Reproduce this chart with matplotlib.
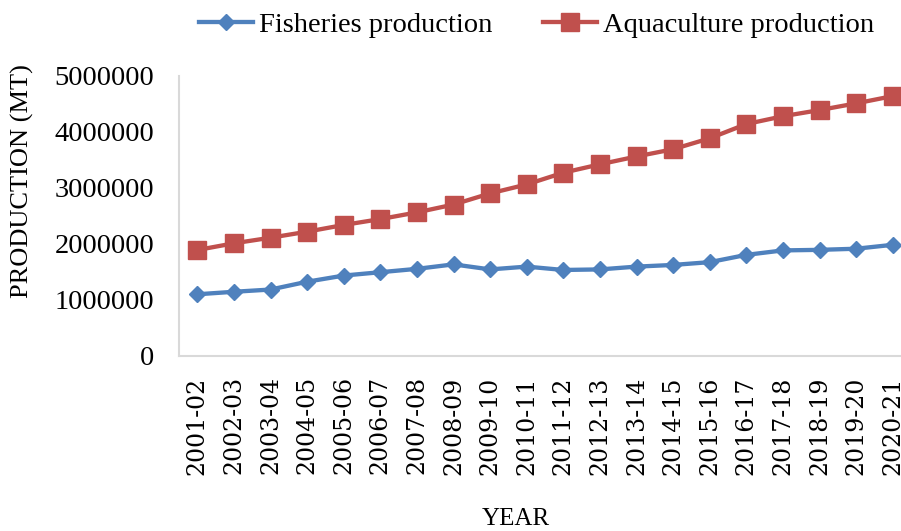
import matplotlib
matplotlib.use("Agg")
import matplotlib.pyplot as plt
from matplotlib.ticker import FixedLocator

years = ["2001-02", "2002-03", "2003-04", "2004-05", "2005-06", "2006-07",
         "2007-08", "2008-09", "2009-10", "2010-11", "2011-12", "2012-13",
         "2013-14", "2014-15", "2015-16", "2016-17", "2017-18", "2018-19",
         "2019-20", "2020-21"]

fisheries = [1095000, 1140000, 1180000, 1320000, 1430000, 1490000, 1550000,
             1630000, 1540000, 1590000, 1530000, 1540000, 1590000, 1620000,
             1670000, 1800000, 1880000, 1890000, 1910000, 1980000]

aquaculture = [1887000, 2007000, 2107000, 2215000, 2335000, 2440000, 2560000,
               2700000, 2900000, 3060000, 3270000, 3420000, 3560000, 3690000,
               3885000, 4140000, 4280000, 4390000, 4510000, 4640000]

y_ticks = [0, 1000000, 2000000, 3000000, 4000000, 5000000]

serif = ["Liberation Serif", "DejaVu Serif"]
blue = "#4F81BD"
red = "#C0504D"
spine_grey = "#D9D9D9"

fig = plt.figure(figsize=(9.01, 5.31), dpi=100)
ax = fig.add_axes([0.1987, 0.3305, 0.8124, 0.5264])

x = list(range(len(years)))
ax.plot(x, fisheries, color=blue, lw=3.1, marker="D", markersize=8.5,
        label="Fisheries production", clip_on=False, zorder=3)
ax.plot(x, aquaculture, color=red, lw=3.1, marker="s", markersize=12.5,
        label="Aquaculture production", clip_on=False, zorder=3)

ax.set_xlim(-0.5, len(years) - 0.5)
ax.set_ylim(0, 5000000)
ax.yaxis.set_major_locator(FixedLocator(y_ticks))
ax.set_yticklabels([str(v) for v in y_ticks], family=serif, fontsize=20.5)
ax.set_xticks(x)
ax.set_xticklabels(years, rotation=90, family=["DejaVu Serif"], fontsize=17)
ax.tick_params(axis="both", length=0, colors="black")
ax.tick_params(axis="y", pad=18)
ax.tick_params(axis="x", pad=15)

for side in ("top", "right"):
    ax.spines[side].set_visible(False)
for side in ("left", "bottom"):
    ax.spines[side].set_color(spine_grey)
    ax.spines[side].set_linewidth(1.5)

fig.text(516 / 901, 1 - 519 / 531, "YEAR", family=serif, fontsize=18,
         ha="center", va="center")
fig.text(22 / 901, 1 - 181 / 531, "PRODUCTION (MT)", family=serif,
         fontsize=19, rotation=90, ha="center", va="center")

leg = fig.legend(loc="center", bbox_to_anchor=(536.5 / 901, 1 - 25 / 531),
                 ncol=2, frameon=False, prop={"family": serif, "size": 20.5},
                 handlelength=1.9, handletextpad=0.2, columnspacing=1.8,
                 borderpad=0, markerscale=1.0)

fig.savefig("out.png", dpi=100)
